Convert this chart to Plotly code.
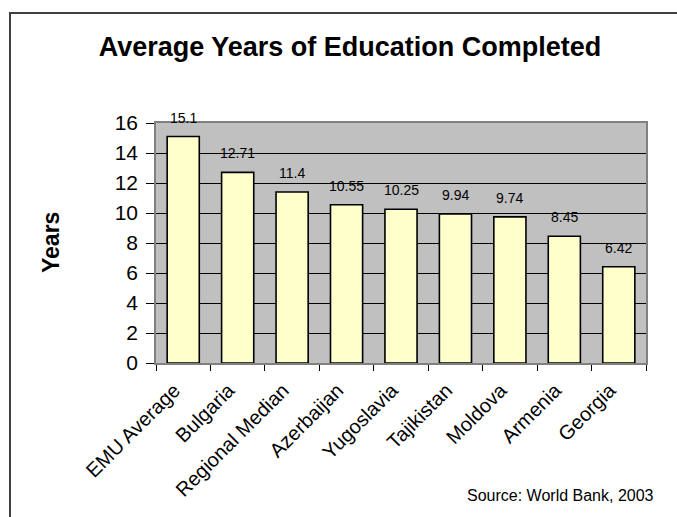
import plotly.graph_objects as go

categories = ["EMU Average", "Bulgaria", "Regional Median", "Azerbaijan", "Yugoslavia",
              "Tajikistan", "Moldova", "Armenia", "Georgia"]
values = [15.1, 12.71, 11.4, 10.55, 10.25, 9.94, 9.74, 8.45, 6.42]
value_labels = ["15.1", "12.71", "11.4", "10.55", "10.25", "9.94", "9.74", "8.45", "6.42"]
y_ticks = [0, 2, 4, 6, 8, 10, 12, 14, 16]

W, H = 677, 517
L, R, T, B = 156, 31, 123, 154
pw, ph = W - L - R, H - T - B

def px_x(x):
    return (x - L) / pw

def px_y(y):
    return (H - B - y) / ph

FONT = "Liberation Sans, Arial, sans-serif"

fig = go.Figure()
fig.add_trace(go.Bar(
    x=categories, y=values,
    marker=dict(color="#FFFFCC", line=dict(color="black", width=1.6)),
    hoverinfo="x+y",
))

annotations = []
for c, v, t in zip(categories, values, value_labels):
    annotations.append(dict(
        x=c, y=v, xref="x", yref="y", text=t, showarrow=False,
        yanchor="bottom", yshift=9,
        font=dict(family=FONT, size=14, color="black"),
    ))

annotations.append(dict(
    x=px_x(51), y=0.5, xref="paper", yref="paper", text="<b>Years</b>",
    textangle=-90, showarrow=False, xanchor="center", yanchor="middle",
    font=dict(family=FONT, size=23, color="black"),
))
annotations.append(dict(
    x=px_x(656), y=px_y(495), xref="paper", yref="paper",
    text="Source: World Bank, 2003", showarrow=False,
    xanchor="right", yanchor="middle",
    font=dict(family=FONT, size=16, color="black"),
))

fig.update_layout(
    width=W, height=H,
    margin=dict(l=L, r=R, t=T, b=B, autoexpand=False),
    paper_bgcolor="white",
    plot_bgcolor="#C0C0C0",
    showlegend=False,
    bargap=0.41,
    title=dict(
        text="<b>Average Years of Education Completed</b>",
        x=350 / W, xanchor="center", xref="container",
        y=1 - 47 / H, yanchor="middle", yref="container",
        font=dict(family=FONT, size=27, color="black"),
    ),
    annotations=annotations,
    shapes=[dict(
        type="rect", xref="paper", yref="paper",
        x0=px_x(10), x1=px_x(720), y0=px_y(560), y1=px_y(13),
        line=dict(color="#404040", width=2), fillcolor="rgba(0,0,0,0)",
        layer="below",
    )],
    xaxis=dict(
        type="category",
        tickangle=-45,
        tickfont=dict(family=FONT, size=20, color="black"),
        ticks="outside", ticklen=6, tickcolor="black", tickson="boundaries",
        ticklabelstandoff=6, ticklabelshift=-9,
        showline=True, linecolor="#808080", linewidth=1.5, mirror=True,
        showgrid=False,
    ),
    yaxis=dict(
        range=[0, 16],
        tickvals=y_ticks,
        ticktext=[str(v) for v in y_ticks],
        tickfont=dict(family=FONT, size=21, color="black"),
        ticks="outside", ticklen=8, tickcolor="black",
        ticklabelstandoff=4,
        showline=True, linecolor="#808080", linewidth=1.5, mirror=True,
        showgrid=True, gridcolor="black", gridwidth=1,
        zeroline=False,
    ),
)

fig.write_html(
    "out.html",
    config={"displayModeBar": False},
    post_script="document.body.style.margin='0';document.body.style.overflow='hidden';",
)
